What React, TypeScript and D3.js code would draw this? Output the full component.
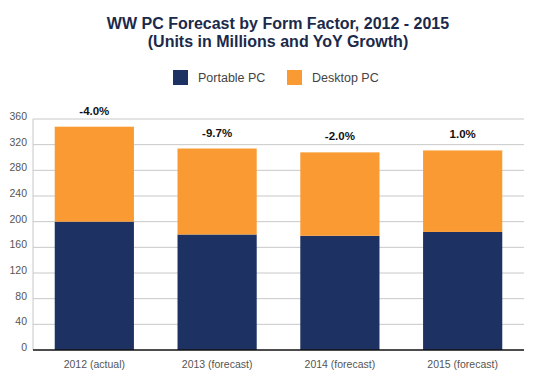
import * as React from 'react'
import * as d3 from 'd3'

const categories = ['2012 (actual)', '2013 (forecast)', '2014 (forecast)', '2015 (forecast)']
const portablePC = [200, 180, 178, 184]
const desktopPC = [148, 134, 130, 127]
const growthLabels = ['-4.0%', '-9.7%', '-2.0%', '1.0%']
const yTicks = [0, 40, 80, 120, 160, 200, 240, 280, 320, 360]
const seriesNames = ['Portable PC', 'Desktop PC']
const colors = ['#1d3262', '#f99a32']

const width = 542
const height = 371
const margin = { top: 119, right: 18, bottom: 21, left: 33 }

const App = () => {
  const x = d3.scaleBand<string>()
    .domain(categories)
    .range([margin.left, width - margin.right])
    .paddingInner(0.355)
    .paddingOuter(0.177)
  const y = d3.scaleLinear().domain([0, 360]).range([height - margin.bottom, margin.top])

  const rows = categories.map((c, i) => ({ cat: c, portable: portablePC[i], desktop: desktopPC[i] }))
  const stacked = d3.stack<any>().keys(['portable', 'desktop'])(rows)

  const font = 'Arial, "Liberation Sans", sans-serif'

  return (
    <svg width={width} height={height} style={{ position: 'absolute', left: 0, top: 0, background: '#fff' }} fontFamily={font}>
      {/* title */}
      <text x={278} y={29} textAnchor="middle" fontSize={16} fontWeight="bold" fill="#1b2a4a">
        WW PC Forecast by Form Factor, 2012 - 2015
      </text>
      <text x={278} y={47} textAnchor="middle" fontSize={16} fontWeight="bold" fill="#1b2a4a">
        (Units in Millions and YoY Growth)
      </text>

      {/* legend */}
      {seriesNames.map((s, i) => (
        <g key={s} transform={`translate(${173 + i * 114}, 70)`}>
          <rect width={15} height={15} fill={colors[i]} />
          <text x={25} y={12} fontSize={12.5} fill="#444">{s}</text>
        </g>
      ))}

      {/* grid */}
      {yTicks.map(t => (
        <g key={t}>
          {t > 0 && (
            <line x1={margin.left} x2={width - margin.right} y1={y(t)} y2={y(t)} stroke="#c8c8c8" />
          )}
          <text x={27} y={y(t) + 1} textAnchor="end" fontSize={10.5} fill="#555">{t}</text>
        </g>
      ))}
      <line x1={margin.left} x2={margin.left} y1={y(360)} y2={y(0)} stroke="#c8c8c8" />

      {/* bars */}
      {stacked.map((layer, li) => (
        <g key={li} fill={colors[li]}>
          {layer.map((d, i) => (
            <rect
              key={i}
              x={x(categories[i])}
              y={y(d[1])}
              width={x.bandwidth()}
              height={y(d[0]) - y(d[1])}
            />
          ))}
        </g>
      ))}

      {/* growth labels */}
      {categories.map((c, i) => (
        <text
          key={c}
          x={(x(c) as number) + x.bandwidth() / 2}
          y={y(portablePC[i] + desktopPC[i]) - 12}
          textAnchor="middle"
          fontSize={11.5}
          fontWeight="bold"
          fill="#111"
        >
          {growthLabels[i]}
        </text>
      ))}

      {/* x axis */}
      <line x1={margin.left} x2={width - margin.right} y1={y(0)} y2={y(0)} stroke="#111" strokeWidth={1.5} />
      {categories.map(c => (
        <text key={c} x={(x(c) as number) + x.bandwidth() / 2} y={368} textAnchor="middle" fontSize={10.5} fill="#555">
          {c}
        </text>
      ))}
    </svg>
  )
}

export default App
